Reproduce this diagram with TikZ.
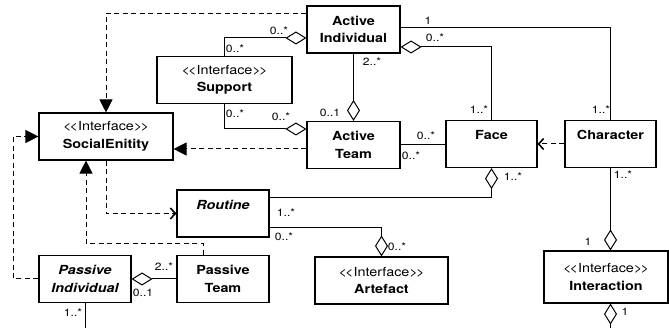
\documentclass[tikz,border=0pt]{standalone}
\usepackage{fontspec}
\setmainfont{TeX Gyre Heros}[FakeStretch=1.15, Ligatures=TeXOff]
\usetikzlibrary{arrows.meta}

\newcommand{\interf}{\textmd{<\kern-1.8pt<Interface>\kern-1.8pt>}}

\begin{document}
\begin{tikzpicture}[x=1pt,y=-1pt]
        \tikzset{
            caixa/.style={
                draw,
                line width=1.1pt,
                align=center,
                inner sep=0pt,
                minimum width=#1,
                minimum height=47pt,
                font=\fontsize{12.5}{17.5}\selectfont\bfseries
            },
            mult/.style={
                inner sep=0pt,
                font=\fontsize{10.5}{12}\selectfont
            },
            dep/.style={
                line width=1pt,
                dash pattern=on 5pt off 3.5pt,
                -{Triangle[length=13pt,width=13pt]}
            },
            depa/.style={
                line width=1pt,
                dash pattern=on 5pt off 3.5pt,
                -{Straight Barb[length=5pt,width=11pt,line width=1.6pt]}
            },
            agreg/.style={
                line width=1pt,
                {Diamond[fill=white,length=21pt,width=13pt]}-
            }
        }
        \useasboundingbox (0,0) rectangle (669,328);

        %classes
        \node[caixa=93pt] (AI) at (353.5,29.5) {Active\\Individual};
        \node[caixa=135pt] (Sup) at (224.5,80) {\interf\\Support};
        \node[caixa=134pt] (SE) at (106,136.5) {\interf\\SocialEnitity};
        \node[caixa=93pt] (AT) at (353.5,145) {Active\\Team};
        \node[caixa=91pt] (Face) at (491.5,144) {Face\\\mbox{}};
        \node[caixa=91pt] (Char) at (610.5,144) {Character\\\mbox{}};
        \node[caixa=92pt] (Rot) at (223,213.5) {\itshape Routine\\\mbox{}};
        \node[caixa=92pt] (PI) at (85,279) {\itshape Passive\\\itshape Individual};
        \node[caixa=92pt] (PT) at (223,279) {Passive\\Team};
        \node[caixa=133pt] (Art) at (381.5,280.5) {\interf\\Artefact};
        \node[caixa=124pt, minimum height=52pt] (Int) at (606,277) {\interf\\Interaction};

        \coordinate (ifim) at (610.5,345);
        \coordinate (pfim) at (85,345);

        %dependencias
        \draw[dep] ([yshift=-8pt]AI.north west) -| (SE.north);
        \draw[dep] ([yshift=-4pt]AT.west) coordinate (t1) -- (SE.east |- t1);
        \draw[dep] (PI.west) -- ++(-25,0) |- (SE.west);
        \draw[dep] ([xshift=-20pt]PT.north) -- ++(0,-11) -| ([xshift=-20pt]SE.south);
        \draw[depa] (SE.south) |- (Rot.west);
        \draw[depa] (Char.west) -- (Face.east);

        %agregacoes
        \draw[agreg] ([yshift=-8.5pt]AI.west) -| (Sup.north);
        \draw[agreg] ([yshift=16pt]AT.west) -| (Sup.south);
        \draw[agreg] (AT.north) -- (AI.south);
        \draw[agreg] ([yshift=-17.5pt]AI.east) -| (Face.north);
        \draw[line width=1pt] ([yshift=1.5pt]AI.east) -| (Char.north);
        \draw[line width=1pt] (AT.east) -- (AT.east -| Face.west);
        \draw[agreg] (Face.south) |- ([yshift=15.5pt]Rot.east);
        \draw[agreg] (Art.north) |- ([yshift=-14.5pt]Rot.east);
        \draw[agreg] (Char.south |- Int.north) -- (Char.south);
        \draw[agreg] (Char.south |- Int.south) -- (ifim);
        \draw[agreg] (PI.east) -- (PT.west);
        \draw[line width=1pt] (PI.south) -- (pfim);

        %multiplicidades
        \node[mult] (m1) at (279,31) {0..*};
        \node[mult] (m2) at (235,49) {0..*};
        \node[mult] (m3) at (235,114) {0..*};
        \node[mult] (m4) at (281,117) {0..*};
        \node[mult] (m5) at (330,113) {0..1};
        \node[mult] (m6) at (428,21) {1};
        \node[mult] (m7) at (435,38) {0..*};
        \node[mult] (m8) at (372,62) {2..*};
        \node[mult] (m9) at (479,110) {1..*};
        \node[mult] (m10) at (601,110) {1..*};
        \node[mult] (m11) at (426,136) {0..*};
        \node[mult] (m12) at (411,156) {0..*};
        \node[mult] (m13) at (513,177) {1..*};
        \node[mult] (m14) at (623,175) {1..*};
        \node[mult] (m15) at (397,247) {0..*};
        \node[mult] (m16) at (588,242) {1};
        \node[mult] (m17) at (625,312) {1};
        \node[mult] (m18) at (286,213) {1..*};
        \node[mult] (m19) at (284,237) {0..*};
        \node[mult] (m20) at (164,267) {2..*};
        \node[mult] (m21) at (143,293) {0..1};
        \node[mult] (m22) at (73,313) {1..*};

    \end{tikzpicture}
\end{document}
